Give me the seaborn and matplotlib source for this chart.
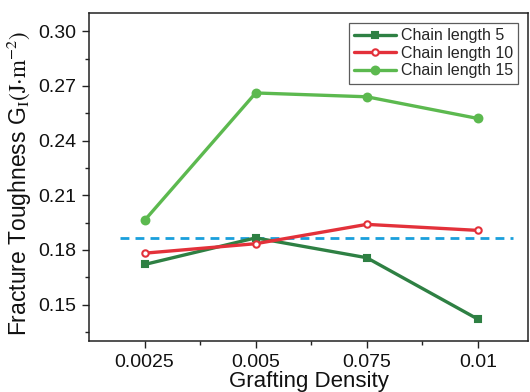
import numpy as np
import pandas as pd
import seaborn as sns
import matplotlib
matplotlib.use('Agg')
import matplotlib.pyplot as plt
from matplotlib.ticker import FixedLocator, FormatStrFormatter

# --- data ---
grafting_density = ['0.0025', '0.005', '0.075', '0.01']
chain_5 = [0.1720, 0.1866, 0.1757, 0.1420]
chain_10 = [0.1782, 0.1834, 0.1940, 0.1907]
chain_15 = [0.1962, 0.2661, 0.2640, 0.2521]
reference_level = 0.1865

# name, values, colour, marker, face colour, marker size
series = [
    ('Chain length 5', chain_5, '#2e8043', 's', '#2e8043', 5.0),
    ('Chain length 10', chain_10, '#e3313a', 'o', 'white', 4.6),
    ('Chain length 15', chain_15, '#5cb94f', 'o', '#5cb94f', 5.6),
]

sns.set_style('ticks')
plt.rcParams['font.family'] = ['Liberation Sans', 'DejaVu Sans']
plt.rcParams['mathtext.fontset'] = 'stix'

fig = plt.figure(figsize=(5.30, 3.92), dpi=100)
ax = fig.add_axes([0.168, 0.130, 0.828, 0.837])

for name, vals, color, marker, face, ms in series:
    df = pd.DataFrame({'x': grafting_density, 'y': vals})
    sns.lineplot(data=df, x='x', y='y', ax=ax, color=color, lw=2.4,
                 marker=marker, markersize=ms,
                 markerfacecolor=face, markeredgecolor=color,
                 markeredgewidth=1.5, label=name, sort=False)

# dashed reference level
ax.hlines(reference_level, -0.22, 3.32, colors='#1a9fdc', linestyles=(0, (3.2, 2.2)),
          lw=2.0, zorder=1)

ax.set_xlim(-0.5, 3.45)
ax.set_ylim(0.13, 0.31)
ax.set_xticks(range(len(grafting_density)))
ax.set_xticklabels(grafting_density)
ax.xaxis.set_minor_locator(FixedLocator([0.5, 1.5, 2.5]))
ax.set_yticks([0.15, 0.18, 0.21, 0.24, 0.27, 0.30])
ax.yaxis.set_minor_locator(FixedLocator([0.135, 0.165, 0.195, 0.225, 0.255, 0.285]))
ax.yaxis.set_major_formatter(FormatStrFormatter('%.2f'))

ax.tick_params(which='major', direction='out', length=5, width=1, labelsize=14,
               color='#222222', labelcolor='#111111', pad=4)
ax.tick_params(which='minor', direction='out', length=3, width=1, color='#222222')
for sp in ax.spines.values():
    sp.set_color('#222222')
    sp.set_linewidth(1.1)
    sp.set_visible(True)

ax.set_xlabel('Grafting Density', fontsize=16, labelpad=0, color='#111111')
ax.set_ylabel(r'Fracture Toughness G$_\mathrm{I}$$\mathrm{(J{\cdot}m^{-2})}$',
              fontsize=16.5, color='#111111')
ax.yaxis.set_label_coords(-0.128, 0.48)

leg = ax.legend(loc='upper right', bbox_to_anchor=(0.978, 0.97), fontsize=11.5,
                frameon=True, fancybox=False, edgecolor='#333333',
                handlelength=2.6, handletextpad=0.3, borderpad=0.35,
                labelspacing=0.15, borderaxespad=0)
leg.get_frame().set_linewidth(0.9)

fig.savefig('out.png', dpi=100)
